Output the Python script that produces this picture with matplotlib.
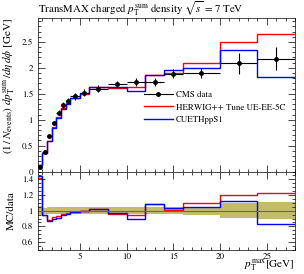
import numpy as np
import matplotlib
matplotlib.use("Agg")
import matplotlib.pyplot as plt
from matplotlib.ticker import MultipleLocator
from matplotlib.lines import Line2D

plt.rcParams.update({
    "font.family": "STIXGeneral",
    "mathtext.fontset": "stix",
    "xtick.direction": "in",
    "ytick.direction": "in",
    "xtick.top": True,
    "ytick.right": True,
})

# bin edges in pT max [GeV]
edges = [0.5, 1, 1.5, 2, 2.5, 3, 3.5, 4, 5, 6, 8, 10, 12, 14, 16, 20, 24, 28]

# CMS data
data = [0.09, 0.37, 0.68, 0.94, 1.135, 1.28, 1.36, 1.45, 1.52, 1.60, 1.68,
        1.73, 1.73, 1.89, 1.90, 2.09, 2.18]
data_err = [0.005, 0.015, 0.03, 0.04, 0.05, 0.055, 0.06, 0.065, 0.07, 0.07,
            0.07, 0.08, 0.08, 0.08, 0.10, 0.20, 0.23]

# HERWIG++ Tune UE-EE-5C
herwig = [0.128, 0.348, 0.598, 0.860, 1.056, 1.222, 1.319, 1.421, 1.505, 1.632,
          1.604, 1.635, 1.868, 1.909, 2.09, 2.508, 2.66]

# CUETHppS1
cueth = [0.130, 0.348, 0.588, 0.837, 1.033, 1.203, 1.306, 1.421, 1.52, 1.632,
         1.638, 1.557, 1.868, 1.966, 1.995, 2.341, 1.820]

edges_a = np.array(edges)
centers = 0.5 * (edges_a[1:] + edges_a[:-1])
halfw = 0.5 * (edges_a[1:] - edges_a[:-1])
data_a = np.array(data)
err_a = np.array(data_err)

fig = plt.figure(figsize=(3.04, 2.74), dpi=100)
ax = fig.add_axes([0.124, 0.374, 0.846, 0.560])
rx = fig.add_axes([0.124, 0.088, 0.846, 0.286], sharex=ax)

# main panel
ax.stairs(herwig, edges, color="red", lw=1.0, baseline=None)
ax.stairs(cueth, edges, color="blue", lw=1.0, baseline=None)
ax.errorbar(centers, data, xerr=halfw, yerr=data_err, fmt="o", color="black",
            ms=2.5, lw=0.8, capsize=0)

ax.set_xlim(0.5, 28)
ax.set_ylim(0, 2.96)
ax.yaxis.set_minor_locator(MultipleLocator(0.1))
ax.xaxis.set_major_locator(MultipleLocator(5))
ax.xaxis.set_minor_locator(MultipleLocator(1))
ax.tick_params(labelbottom=False, labelsize=6.5, length=5, width=0.5)
ax.tick_params(which="minor", length=2.5, width=0.5)
ax.set_yticks([0, 0.5, 1, 1.5, 2, 2.5])
ax.set_yticklabels(["0", "0.5", "1", "1.5", "2", "2.5"])
ax.set_title(r"TransMAX charged $p_\mathrm{T}^\mathrm{sum}$ density $\sqrt{s}$ = 7 TeV",
             loc="left", fontsize=7.8, pad=4)
ax.set_ylabel(r"$(1\,/\,N_\mathrm{events})\ dp_\mathrm{T}^\mathrm{sum}\,/d\eta\,d\phi$ [GeV]",
              loc="top", fontsize=8)
ax.yaxis.set_label_coords(-0.085, 1.0)

h_data = Line2D([], [], color="black", marker="o", ms=2.5, lw=0.8)
h_red = Line2D([], [], color="red", lw=1.0)
h_blue = Line2D([], [], color="blue", lw=1.0)
ax.legend([h_data, h_red, h_blue],
          ["CMS data", "HERWIG++ Tune UE-EE-5C", "CUETHppS1"],
          loc="upper left", bbox_to_anchor=(0.40, 0.55), frameon=False,
          fontsize=6.4, handlelength=3.2, handletextpad=0.4, labelspacing=0.5,
          borderaxespad=0)

for s in ax.spines.values():
    s.set_linewidth(0.5)

# ratio panel
rel = err_a / data_a
rx.stairs(1 + rel, edges, baseline=1 - rel, fill=True, color="#bdb55a",
          alpha=0.9, lw=0)
rx.axhline(1, color="#6e6a40", lw=0.8)
rx.stairs(np.array(herwig) / data_a, edges, color="red", lw=1.0, baseline=None)
rx.stairs(np.array(cueth) / data_a, edges, color="blue", lw=1.0, baseline=None)

rx.set_ylim(0.5, 1.5)
rx.set_yticks([0.6, 0.8, 1, 1.2, 1.4])
rx.set_yticklabels(["0.6", "0.8", "1", "1.2", "1.4"])
rx.yaxis.set_minor_locator(MultipleLocator(0.05))
rx.tick_params(labelsize=6.5, length=5, width=0.5)
rx.tick_params(axis="x", pad=2)
rx.tick_params(which="minor", length=2.5, width=0.5)
rx.set_xticks([5, 10, 15, 20, 25])
rx.set_xticklabels(["5", "10", "15", "20", "25"])
rx.set_ylabel("MC/data", fontsize=8)
rx.yaxis.set_label_coords(-0.085, 0.5)
fig.text(0.970, 0.004, r"$p_\mathrm{T}^\mathrm{max}$[GeV]", ha="right", va="bottom",
         fontsize=8)
for s in rx.spines.values():
    s.set_linewidth(0.5)

fig.savefig("out.png", dpi=100)
